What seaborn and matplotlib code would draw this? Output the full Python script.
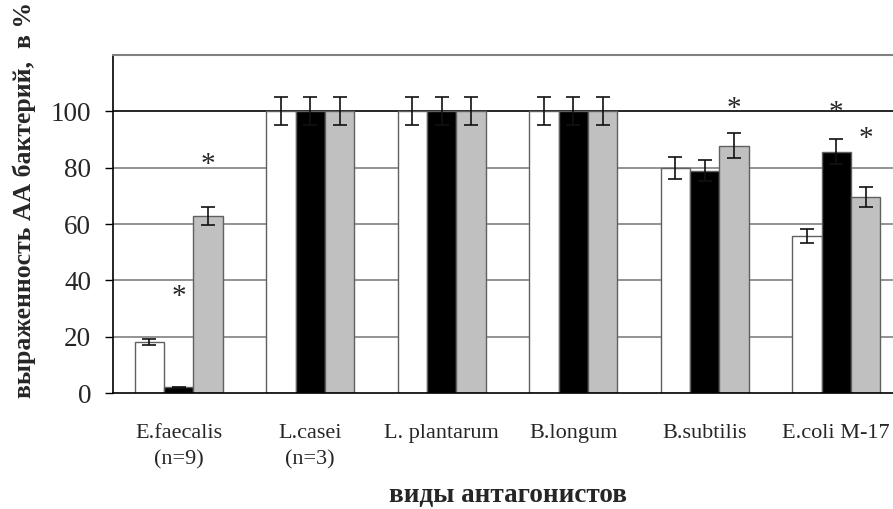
import matplotlib
matplotlib.use("Agg")
import matplotlib.pyplot as plt
import numpy as np
import pandas as pd
import seaborn as sns

CATEGORIES = ["E.faecalis\n(n=9)", "L.casei\n(n=3)", "L. plantarum", "B.longum", "B.subtilis", "E.coli M-17"]
GROUPS = ["g1", "g2", "g3"]
VALUES_1 = [18.3, 100, 100, 100, 80.0, 55.8]
VALUES_2 = [2.1, 100, 100, 100, 78.9, 85.6]
VALUES_3 = [62.8, 100, 100, 100, 87.8, 69.5]
ERR_1 = [1.1, 5.0, 5.0, 5.0, 3.9, 2.6]
ERR_2 = [0.3, 5.0, 5.0, 5.0, 3.7, 4.4]
ERR_3 = [3.2, 5.0, 5.0, 5.0, 4.4, 3.5]
# asterisk heights (data units) per group; None = no star
STARS_2 = [34.2, None, None, None, None, 99.2]
STARS_3 = [80.9, None, None, None, 100.6, 90.0]
COLORS = ["#ffffff", "#000000", "#c0c0c0"]

df = pd.DataFrame({
    "category": CATEGORIES * 3,
    "group": np.repeat(GROUPS, len(CATEGORIES)),
    "value": VALUES_1 + VALUES_2 + VALUES_3,
})

sns.set_style("white")
plt.rcParams["font.family"] = ["Liberation Serif", "DejaVu Serif"]

fig = plt.figure(figsize=(8.93, 5.09), dpi=100)
ax = fig.add_axes([113 / 893, 1 - 393.3 / 509, 789 / 893, 338.6 / 509])

for y in [20, 40, 60, 80]:
    ax.axhline(y, color="#808080", lw=1.2, zorder=0)
ax.axhline(100, color="#000000", lw=1.2, zorder=0)

sns.barplot(data=df, x="category", y="value", hue="group", palette=COLORS,
            width=0.67, edgecolor="#606060", linewidth=1.0, saturation=1,
            errorbar=None, legend=False, ax=ax, zorder=2)

errs = [ERR_1, ERR_2, ERR_3]
stars = [None, STARS_2, STARS_3]
bar_conts = list(ax.containers)
for k, cont in enumerate(bar_conts):
    xs = [p.get_x() + p.get_width() / 2 for p in cont.patches]
    hs = [p.get_height() for p in cont.patches]
    ax.errorbar(xs, hs, yerr=errs[k], fmt="none", ecolor="#111111",
                elinewidth=1.2, capsize=4.8, capthick=1.2, zorder=3)
    if stars[k] is not None:
        for x, s in zip(xs, stars[k]):
            if s is not None:
                ax.text(x, s, "*", ha="center", va="center", fontsize=21, zorder=4)

ax.set_ylim(0, 120)
ax.set_xlim(-0.5, 5.5)
ax.set_yticks([0, 20, 40, 60, 80, 100])
ax.set_yticklabels(["0", "20", "40", "60", "80", "100"], fontsize=19.5)
ax.set_xticks(range(len(CATEGORIES)))
ax.set_xticklabels(CATEGORIES, fontsize=16, linespacing=1.55)
ax.tick_params(axis="x", length=0, pad=22)
ax.set_xticks(np.arange(0.5, 5, 1), minor=True)
ax.tick_params(axis="x", which="minor", length=6, width=1, direction="out", color="black")
ax.tick_params(axis="y", length=5.8, width=1, direction="out", color="black", pad=10, left=True)
ax.set_xlabel("")
ax.set_ylabel("")

for side in ["left", "bottom"]:
    ax.spines[side].set_color("black")
    ax.spines[side].set_linewidth(1.2)
ax.spines["top"].set_color("#808080")
ax.spines["top"].set_linewidth(1.5)
ax.spines["right"].set_visible(False)

fig.text(24 / 893, 1 - 200 / 509, "выраженность АА бактерий,  в %", rotation=90,
         ha="center", va="center", fontsize=18.5, fontweight="bold")
fig.text(508 / 893, 1 - 502 / 509, "виды антагонистов", ha="center", va="baseline",
         fontsize=19.5, fontweight="bold")

fig.savefig("out.png", dpi=100)
